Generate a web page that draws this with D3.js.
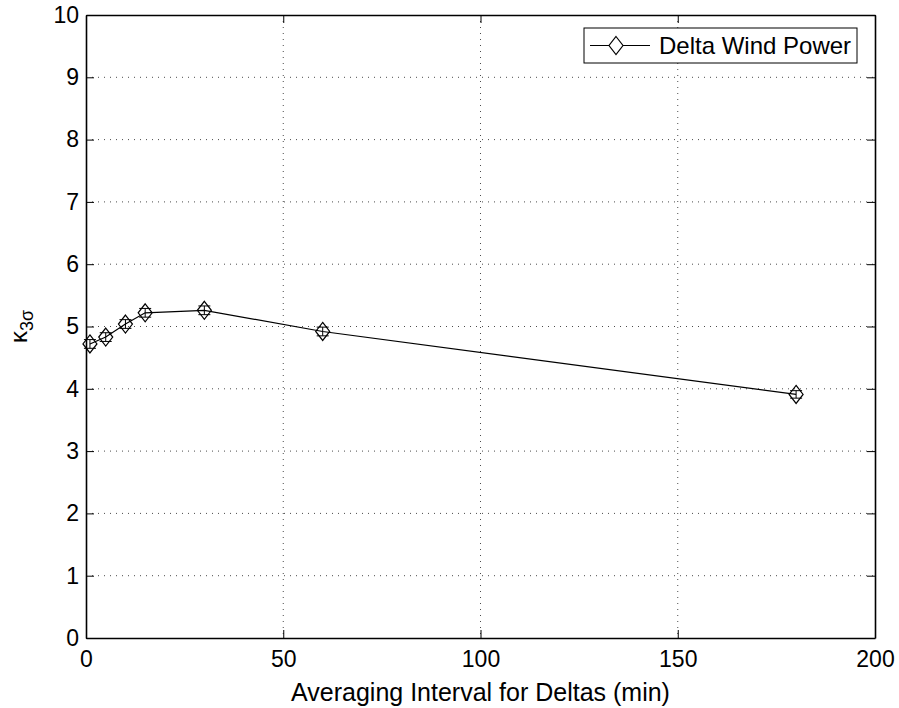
<!DOCTYPE html>
<html><head><meta charset="utf-8">
<script src="https://cdn.jsdelivr.net/npm/d3@7"></script>
<style>body{margin:0;background:#fff}text{font-family:"Liberation Sans",Arial,sans-serif}</style>
</head><body><svg id="c" width="899" height="708"></svg>
<script>
const xVals = [1, 5, 10, 15, 30, 60, 180];
const yVals = [4.72, 4.83, 5.04, 5.22, 5.26, 4.92, 3.91];
const errVals = [0.07, 0.07, 0.07, 0.07, 0.07, 0.07, 0.06];
const xTicks = [0, 50, 100, 150, 200];
const yTicks = [0,1,2,3,4,5,6,7,8,9,10];
const seriesName = "Delta Wind Power";

const svg = d3.select("#c");
const L=86, R=875, T=15, B=638;
const FS = 23;
const x = d3.scaleLinear().domain([0,200]).range([L,R]);
const y = d3.scaleLinear().domain([0,10]).range([B,T]);
const g = svg.append("g");

// grid
g.selectAll(".gx").data(xTicks.slice(1,-1)).join("line")
 .attr("x1",d=>x(d)).attr("x2",d=>x(d)).attr("y1",T).attr("y2",B)
 .attr("stroke","#000").attr("stroke-width",1).attr("stroke-dasharray","1,5").attr("opacity",0.7);
g.selectAll(".gy").data(yTicks.slice(1,-1)).join("line")
 .attr("y1",d=>y(d)).attr("y2",d=>y(d)).attr("x1",L).attr("x2",R)
 .attr("stroke","#000").attr("stroke-width",1).attr("stroke-dasharray","1,5").attr("opacity",0.7);

// axes
const fmt = d3.format("d");
const ax = [
 [d3.axisBottom(x).tickValues(xTicks).tickSize(-8).tickPadding(13).tickFormat(fmt), `translate(0,${B})`],
 [d3.axisTop(x).tickValues(xTicks).tickSize(-8).tickFormat(""), `translate(0,${T})`],
 [d3.axisLeft(y).tickValues(yTicks).tickSize(-8).tickPadding(7).tickFormat(fmt), `translate(${L},0)`],
 [d3.axisRight(y).tickValues(yTicks).tickSize(-8).tickFormat(""), `translate(${R},0)`]
];
ax.forEach(([a,tr])=>{
  const gg = svg.append("g").attr("transform",tr).call(a.tickSizeOuter(0));
  gg.select(".domain").attr("stroke","#000").attr("stroke-width",1.6);
  gg.selectAll(".tick line").attr("stroke","#000").attr("stroke-width",1);
  gg.selectAll(".tick text").attr("font-size",FS).attr("fill","#000");
});

// line
const pts = xVals.map((v,i)=>[v,yVals[i],errVals[i]]);
svg.append("path").datum(pts)
 .attr("d",d3.line().x(d=>x(d[0])).y(d=>y(d[1])))
 .attr("fill","none").attr("stroke","#000").attr("stroke-width",1.2);

// error bars
const eb = svg.append("g").attr("stroke","#000").attr("stroke-width",1);
pts.forEach(d=>{
  const cx=x(d[0]), y1=y(d[1]-d[2]), y2=y(d[1]+d[2]);
  eb.append("line").attr("x1",cx).attr("x2",cx).attr("y1",y1).attr("y2",y2);
  eb.append("line").attr("x1",cx-6).attr("x2",cx+6).attr("y1",y1).attr("y2",y1);
  eb.append("line").attr("x1",cx-6).attr("x2",cx+6).attr("y1",y2).attr("y2",y2);
});
// diamonds
const dia = (cx,cy,w,h)=>`M${cx},${cy-h}L${cx+w},${cy}L${cx},${cy+h}L${cx-w},${cy}Z`;
svg.append("g").selectAll("path").data(pts).join("path")
 .attr("d",d=>dia(x(d[0]),y(d[1]),7,9))
 .attr("fill","none").attr("stroke","#000").attr("stroke-width",1.2);

// legend
const lg = svg.append("g");
lg.append("rect").attr("x",584).attr("y",28).attr("width",273).attr("height",35)
 .attr("fill","#fff").attr("stroke","#000").attr("stroke-width",1);
lg.append("line").attr("x1",590).attr("x2",650).attr("y1",45.5).attr("y2",45.5).attr("stroke","#000").attr("stroke-width",1.2);
lg.append("path").attr("d",dia(616,45.5,7,9)).attr("fill","#fff").attr("stroke","#000").attr("stroke-width",1.2);
lg.append("text").attr("x",659).attr("y",53.5).attr("font-size",24).attr("fill","#000").text(seriesName);

// axis labels
svg.append("text").attr("x",(L+R)/2).attr("y",701).attr("text-anchor","middle")
 .attr("font-size",25).attr("fill","#000").text("Averaging Interval for Deltas (min)");
const yl = svg.append("text").attr("transform",`translate(27,${(T+B)/2}) rotate(-90)`)
 .attr("text-anchor","middle").attr("font-size",24).attr("fill","#000");
yl.append("tspan").text("κ");
yl.append("tspan").attr("font-size",18).attr("dy",6).text("3σ");
</script></body></html>
